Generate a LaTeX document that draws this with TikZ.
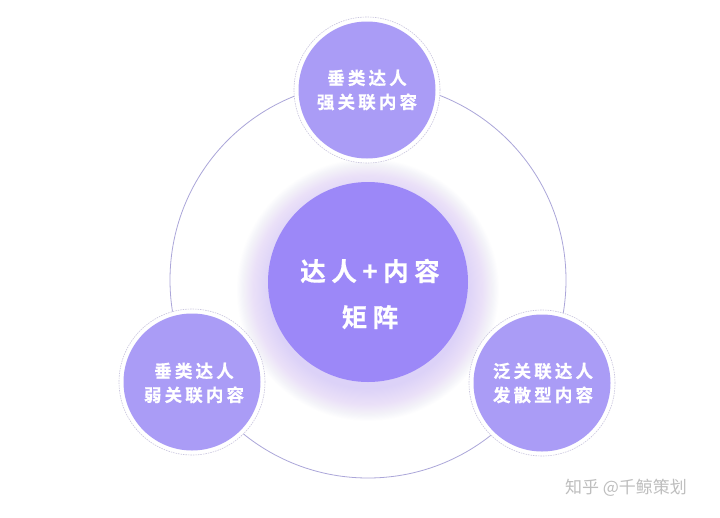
\documentclass[tikz,border=0pt]{standalone}
\usepackage{fontspec}
\newfontfamily\cjk{Noto Sans CJK SC}[BoldFont={Noto Sans CJK SC Bold},BoldFeatures={FakeBold=0.6}]
\definecolor{orbitc}{HTML}{ABA6D9}
\definecolor{ringc}{HTML}{C9C5DE}
\definecolor{smallc}{HTML}{AA9CF6}
\definecolor{bigc}{HTML}{9C88F8}
\definecolor{glowc}{HTML}{A08CF8}
\definecolor{markc}{HTML}{BEBEBE}
\tikzset{
  orbitline/.style={circle, draw=orbitc, line width=0.8pt, minimum size=396pt, inner sep=0pt},
  ringcirc/.style={circle, draw=ringc, dash pattern=on 1.5pt off 1pt, line width=0.6pt, fill=white, minimum size=146pt, inner sep=0pt},
  smallcirc/.style={circle, fill=smallc, minimum size=137pt, inner sep=0pt},
  bigcirc/.style={circle, fill=bigc, minimum size=200pt, inner sep=0pt},
  smalltxt/.style={text=white, align=center, inner sep=0pt,
    font=\cjk\bfseries\addfontfeature{LetterSpace=18}\fontsize{17.5}{24}\selectfont},
  bigtxt/.style={text=white, align=center, inner sep=0pt,
    font=\cjk\bfseries\addfontfeature{LetterSpace=22}\fontsize{25.5}{46}\selectfont},
  marktxt/.style={text=markc, inner sep=0pt, font=\cjk\fontsize{17}{20}\selectfont},
}
\begin{document}
\begin{tikzpicture}[x=1pt,y=-1pt]
\useasboundingbox[fill=white] (0,0) rectangle (720,517);
% orbit
\node[orbitline] (orbit) at (368,280) {};
% glow behind centre circle
\foreach \i in {1,...,30}{
  \fill[glowc, opacity=0.011] (368,290) circle[radius=98pt+\i*1.1pt];
}
\node[bigcirc] (centre) at (368,282) {};
\node[bigtxt] (centretxt) at (370,294) {达人+内容\\矩阵};
% top
\node[ringcirc] (topring) at (367,90) {};
\node[smallcirc] (top) at (367,90) {};
\node[smalltxt] (toptxt) at (367,90) {垂类达人\\强关联内容};
% left
\node[ringcirc] (leftring) at (192,382) {};
\node[smallcirc] (left) at (192,382) {};
\node[smalltxt] (lefttxt) at (194,383) {垂类达人\\弱关联内容};
% right
\node[ringcirc] (rightring) at (542,383) {};
\node[smallcirc] (right) at (542,383) {};
\node[smalltxt] (righttxt) at (543,383) {泛关联达人\\发散型内容};
% watermark
\node[marktxt] (mark) at (626,488) {知乎 @千鲸策划};
\end{tikzpicture}
\end{document}
